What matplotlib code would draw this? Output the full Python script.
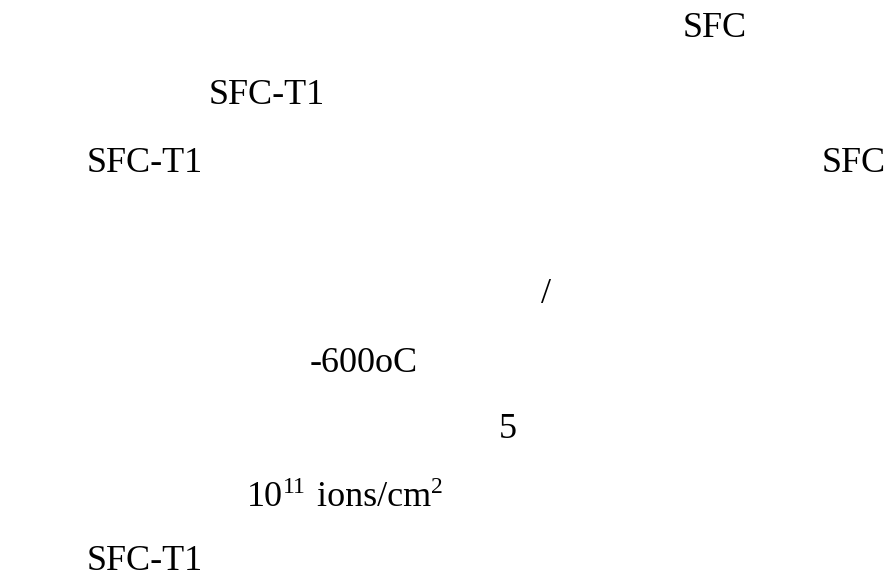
import matplotlib
matplotlib.use('Agg')
import matplotlib.pyplot as plt

W, H = 889, 581

plt.rcParams['font.family'] = ['Liberation Serif', 'DejaVu Serif']

# text fragments left on the page (left edge px, baseline px)
labels = ['SFC', 'SFC-T1', 'SFC-T1', 'SFC', '/', '-600oC', '5', 'SFC-T1']
x_px = [683, 209, 87, 822, 541, 310, 499, 87]
y_px = [37, 104, 172, 172, 303, 372, 438, 570]

# the line with superscripts: (text, is_superscript)
dose_parts = [('10', False), ('11', True), (' ions/cm', False), ('2', True)]
dose_x, dose_y = 247, 506

BIG, SMALL = 26, 17
SUP_RISE = 13  # px

fig = plt.figure(figsize=(W / 100, H / 100), dpi=100)
fig.patch.set_facecolor('white')

for lab, x, y in zip(labels, x_px, y_px):
    fig.text(x / W, 1 - y / H, lab, fontsize=BIG, color='black',
             ha='left', va='baseline')

renderer = fig.canvas.get_renderer()
cx = dose_x
for part, sup in dose_parts:
    yb = dose_y - SUP_RISE if sup else dose_y
    t = fig.text(cx / W, 1 - yb / H, part, fontsize=SMALL if sup else BIG,
                 color='black', ha='left', va='baseline')
    bb = t.get_window_extent(renderer=renderer)
    cx += bb.width + (2 if sup else 0)

fig.savefig('out.png', dpi=100, facecolor='white')
